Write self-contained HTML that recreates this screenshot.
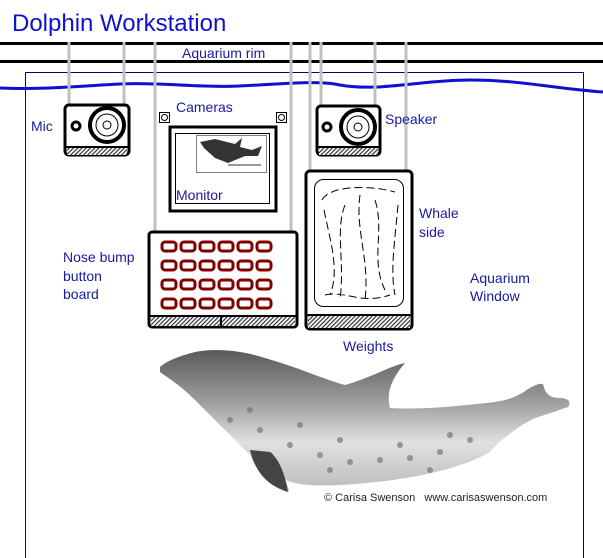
<!DOCTYPE html>
<html><head><meta charset="utf-8"><style>
html,body{margin:0;padding:0;background:#fff;}
svg{display:block}
text{font-family:"Liberation Sans",Arial,sans-serif;fill:#1a1aa0;}
</style></head><body>
<svg width="603" height="558" viewBox="0 0 603 558" xmlns="http://www.w3.org/2000/svg">
<defs>
<pattern id="h" width="3" height="3" patternUnits="userSpaceOnUse" patternTransform="rotate(45)">
<rect width="3" height="3" fill="#fff"/><rect width="1.2" height="3" fill="#333"/></pattern>
<linearGradient id="dg" x1="0" y1="0" x2="0" y2="1">
<stop offset="0" stop-color="#5a5a5a"/><stop offset="0.35" stop-color="#9a9a9a"/><stop offset="0.65" stop-color="#e0e0e0"/><stop offset="1" stop-color="#bbb"/></linearGradient>
</defs>
<text x="12" y="31" font-size="24" style="fill:#1010d0">Dolphin Workstation</text>
<rect x="25.5" y="72.5" width="558" height="500" fill="none" stroke="#000080" stroke-width="1"/>
<line x1="0" y1="43.5" x2="603" y2="43.5" stroke="#000" stroke-width="3"/>
<line x1="0" y1="61.5" x2="603" y2="61.5" stroke="#000" stroke-width="3"/>
<text x="182" y="58" font-size="14">Aquarium rim</text>
<path d="M0,88 C40,90 80,86 120,84 C160,82 200,88 240,86 C280,84 320,80 340,85 C380,92 420,80 470,80 C520,80 550,88 603,92" fill="none" stroke="#1010d0" stroke-width="3"/>
<g stroke="#c0c0c0" stroke-width="3">
<line x1="69" y1="42" x2="69" y2="108"/><line x1="124" y1="42" x2="124" y2="108"/>
<line x1="155" y1="42" x2="155" y2="234"/><line x1="291" y1="42" x2="291" y2="234"/>
<line x1="310" y1="42" x2="310" y2="174"/><line x1="321" y1="42" x2="321" y2="108"/>
<line x1="375" y1="42" x2="375" y2="108"/><line x1="406" y1="42" x2="406" y2="174"/>
</g>
<text x="31" y="131" font-size="14">Mic</text>
<rect x="65" y="105" width="64" height="50" rx="4" fill="#fff" stroke="#000" stroke-width="3"/>
<rect x="67" y="148" width="60" height="7" fill="url(#h)"/>
<line x1="65" y1="147" x2="129" y2="147" stroke="#000" stroke-width="2"/>
<circle cx="76" cy="126" r="4" fill="#fff" stroke="#000" stroke-width="3"/>
<circle cx="107" cy="125" r="17" fill="#fff" stroke="#000" stroke-width="4"/>
<circle cx="107" cy="125" r="11" fill="none" stroke="#000" stroke-width="1"/>
<circle cx="107" cy="125" r="4" fill="none" stroke="#000" stroke-width="1"/>
<text x="176" y="112" font-size="14">Cameras</text>
<rect x="159.5" y="112.5" width="10" height="10" fill="#fff" stroke="#000"/><circle cx="164.5" cy="117.5" r="3" fill="none" stroke="#000"/>
<rect x="276.5" y="112.5" width="10" height="10" fill="#fff" stroke="#000"/><circle cx="281.5" cy="117.5" r="3" fill="none" stroke="#000"/>
<rect x="170" y="127" width="106" height="84" fill="#fff" stroke="#000" stroke-width="3"/>
<rect x="175.5" y="133.5" width="94" height="70" fill="none" stroke="#000" stroke-width="1"/>
<rect x="196.5" y="135.5" width="70" height="37" fill="#fff" stroke="#808080" stroke-width="1"/>
<path d="M200,142 L215,139 L235,144 L242,138 L240,147 L252,150 L262,146 L258,156 L245,156 L228,163 L215,158 L204,148 Z" fill="#333"/>
<line x1="228" y1="165" x2="261" y2="165" stroke="#333"/>
<text x="176" y="200" font-size="14">Monitor</text>
<text x="385" y="124" font-size="14">Speaker</text>
<rect x="317" y="106" width="63" height="49" rx="4" fill="#fff" stroke="#000" stroke-width="3"/>
<rect x="319" y="148" width="59" height="7" fill="url(#h)"/>
<line x1="317" y1="147" x2="380" y2="147" stroke="#000" stroke-width="2"/>
<circle cx="327" cy="127" r="4" fill="#fff" stroke="#000" stroke-width="3"/>
<circle cx="358" cy="127" r="17" fill="#fff" stroke="#000" stroke-width="4"/>
<circle cx="358" cy="127" r="11" fill="none" stroke="#000" stroke-width="1"/>
<circle cx="358" cy="127" r="4" fill="none" stroke="#000" stroke-width="1"/>
<rect x="306" y="171" width="106" height="158" rx="4" fill="#fff" stroke="#000" stroke-width="3"/>
<rect x="308" y="316" width="102" height="12" fill="url(#h)"/>
<line x1="306" y1="315" x2="412" y2="315" stroke="#000" stroke-width="2"/>
<rect x="314.5" y="179.5" width="89" height="127" rx="9" fill="none" stroke="#000" stroke-width="1"/>
<g fill="none" stroke="#000" stroke-width="1" stroke-dasharray="8,4">
<path d="M322,200 C330,185 370,185 395,192 M324,210 C330,240 340,270 330,295 M345,205 C335,230 345,260 340,300 M360,195 C355,230 370,260 365,300 M375,200 C385,230 370,260 385,290 M398,205 C395,240 390,270 395,295 M325,295 C345,290 360,305 390,295"/>
</g>
<text x="419" y="218" font-size="14">Whale</text>
<text x="419" y="237" font-size="14">side</text>
<text x="470" y="283" font-size="14">Aquarium</text>
<text x="470" y="301" font-size="14">Window</text>
<text x="343" y="351" font-size="14">Weights</text>
<text x="63" y="262" font-size="14">Nose bump</text>
<text x="63" y="281" font-size="14">button</text>
<text x="63" y="299" font-size="14">board</text>
<rect x="149" y="232" width="148" height="95" rx="3" fill="#fff" stroke="#000" stroke-width="3"/>
<rect x="151" y="317" width="144" height="9" fill="url(#h)"/>
<line x1="149" y1="316" x2="297" y2="316" stroke="#000" stroke-width="2"/>
<line x1="221" y1="316" x2="221" y2="327" stroke="#000" stroke-width="2"/>
<g fill="none" stroke="#800000" stroke-width="3">
<g id="row"><rect x="162" y="242" width="14" height="9" rx="3"/><rect x="181" y="242" width="14" height="9" rx="3"/><rect x="200" y="242" width="14" height="9" rx="3"/><rect x="219" y="242" width="14" height="9" rx="3"/><rect x="238" y="242" width="14" height="9" rx="3"/><rect x="257" y="242" width="14" height="9" rx="3"/></g>
<use href="#row" y="19"/><use href="#row" y="38"/><use href="#row" y="57"/>
</g>
<!-- dolphin -->
<path d="M160,367 C168,360 180,356 195,352 C215,348 240,350 265,358 C300,368 320,378 345,385 C370,378 390,366 405,363 C395,375 385,390 390,408 C420,410 460,406 495,402 C510,400 520,395 528,389 C535,385 540,383 543,384 C545,392 548,398 560,398 C568,398 572,402 568,407 C560,410 548,414 535,418 C520,425 500,440 490,452 C460,470 400,482 340,485 C320,486 300,486 285,480 C290,490 290,495 285,490 C270,482 255,470 250,455 C235,440 215,420 195,400 C180,385 168,378 160,372 Z" fill="url(#dg)"/>
<g fill="#777" opacity="0.7">
<circle cx="230" cy="420" r="3"/><circle cx="260" cy="430" r="3"/><circle cx="290" cy="445" r="3"/><circle cx="320" cy="455" r="3"/><circle cx="350" cy="462" r="3"/><circle cx="380" cy="460" r="3"/><circle cx="410" cy="458" r="3"/><circle cx="440" cy="452" r="3"/><circle cx="470" cy="440" r="3"/><circle cx="250" cy="410" r="3"/><circle cx="300" cy="425" r="3"/><circle cx="340" cy="440" r="3"/><circle cx="400" cy="445" r="3"/><circle cx="450" cy="435" r="3"/><circle cx="270" cy="455" r="3"/><circle cx="330" cy="470" r="3"/><circle cx="430" cy="470" r="3"/>
</g>
<path d="M250,450 C255,470 265,485 288,492 C285,475 280,460 270,452 Z" fill="#444"/>
<text x="324" y="501" font-size="11" style="fill:#222" xml:space="preserve">© Carisa Swenson   www.carisaswenson.com</text>
</svg>
</body></html>
